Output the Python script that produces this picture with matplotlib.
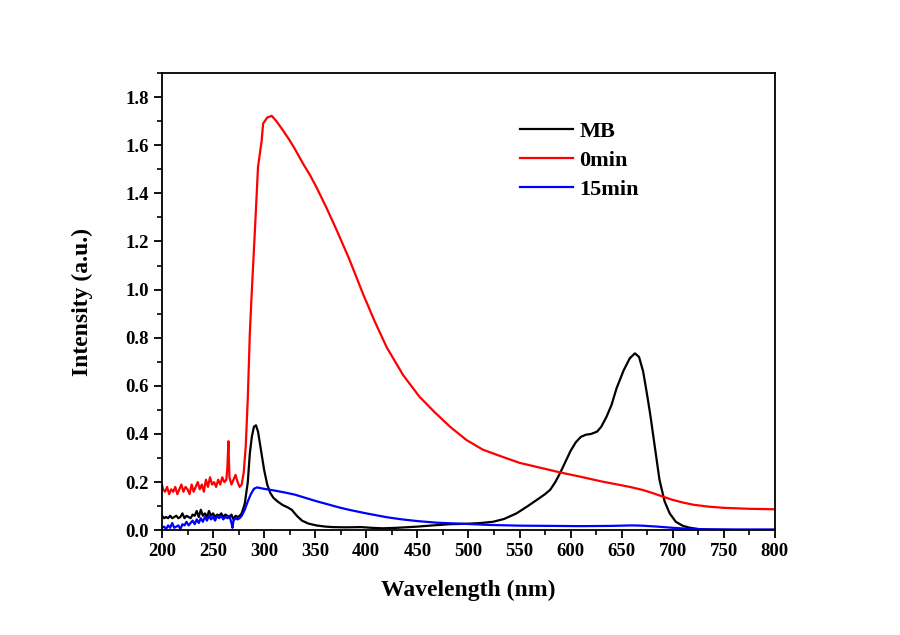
import matplotlib
matplotlib.use("Agg")
import matplotlib.pyplot as plt
from matplotlib.ticker import MultipleLocator, FormatStrFormatter

# ---- data ----
red_wl = [200, 201, 203, 205, 207, 209, 211, 213, 215, 217, 219, 221, 223, 225, 227, 229, 231, 233, 235, 237,
          239, 241, 243, 245, 247, 249, 251, 253, 255, 257, 259, 261, 263, 264, 265, 266, 268, 270, 272, 274,
          276, 278, 280, 282, 284, 286, 288, 291, 294, 297.6, 299, 303, 307.4, 312, 318.7, 325, 330, 338, 345, 351,
          361, 371, 383, 397, 408, 420, 436, 452, 467, 482, 498, 514, 530, 550, 570, 590, 610, 630, 658, 670,
          680, 690, 700, 710, 720, 735, 750, 775, 800]
red_val = [0.19, 0.17, 0.16, 0.18, 0.15, 0.17, 0.16, 0.18, 0.15, 0.17, 0.19, 0.16, 0.18, 0.17, 0.15, 0.19, 0.16, 0.18, 0.20, 0.17,
           0.19, 0.16, 0.21, 0.18, 0.22, 0.19, 0.20, 0.18, 0.21, 0.19, 0.22, 0.20, 0.21, 0.26, 0.37, 0.22, 0.19, 0.21, 0.23, 0.20,
           0.18, 0.19, 0.24, 0.35, 0.55, 0.82, 1.00, 1.25, 1.51, 1.62, 1.69, 1.715, 1.722, 1.70, 1.66, 1.62, 1.585, 1.524, 1.475, 1.427,
           1.34, 1.247, 1.13, 0.98, 0.87, 0.76, 0.645, 0.555, 0.49, 0.43, 0.375, 0.335, 0.31, 0.28, 0.26, 0.24, 0.222, 0.203, 0.18, 0.168,
           0.155, 0.14, 0.126, 0.115, 0.106, 0.098, 0.093, 0.089, 0.087]

mb_wl = [200, 202, 204, 206, 208, 210, 212, 214, 216, 218, 220, 222, 224, 226, 228, 230, 232, 234, 236, 238,
         240, 242, 244, 246, 248, 250, 252, 254, 256, 258, 260, 262, 264, 266, 268, 270, 272, 274, 276, 278,
         281, 284, 286, 288, 290, 292, 294, 297, 300, 303, 306, 309, 313, 318, 323, 327, 332, 337, 343, 351,
         360, 367, 380, 395, 405, 416, 430, 450, 465, 482, 500, 512, 524, 535, 547, 558, 570, 575, 580, 585,
         590, 595, 600, 605, 610, 615, 620, 626, 630, 635, 640, 645, 652, 658, 663, 667, 671, 675, 678, 683,
         687, 692, 697, 703, 710, 717, 725, 740, 760, 800]
mb_val = [0.06, 0.05, 0.055, 0.05, 0.06, 0.05, 0.055, 0.06, 0.05, 0.055, 0.07, 0.05, 0.06, 0.055, 0.05, 0.065, 0.06, 0.08, 0.055, 0.085,
          0.06, 0.07, 0.055, 0.08, 0.06, 0.07, 0.055, 0.065, 0.06, 0.07, 0.055, 0.065, 0.06, 0.05, 0.065, 0.045, 0.06, 0.055, 0.06, 0.07,
          0.11, 0.20, 0.32, 0.39, 0.43, 0.436, 0.41, 0.33, 0.25, 0.19, 0.155, 0.135, 0.12, 0.105, 0.095, 0.085, 0.06, 0.04, 0.028, 0.02,
          0.015, 0.013, 0.012, 0.013, 0.01, 0.008, 0.01, 0.015, 0.02, 0.025, 0.027, 0.03, 0.035, 0.047, 0.07, 0.10, 0.135, 0.15, 0.168, 0.2,
          0.24, 0.285, 0.33, 0.365, 0.388, 0.397, 0.40, 0.41, 0.43, 0.47, 0.52, 0.59, 0.665, 0.715, 0.735, 0.72, 0.66, 0.56, 0.48, 0.33,
          0.21, 0.12, 0.07, 0.035, 0.018, 0.01, 0.005, 0.002, 0.001, 0.001]

b15_wl = [200, 202, 204, 206, 208, 210, 212, 214, 216, 218, 220, 222, 224, 226, 228, 230, 232, 234, 236, 238,
          240, 242, 244, 246, 248, 250, 252, 254, 256, 258, 260, 262, 264, 266, 268, 269, 270, 272, 274, 276,
          278, 281, 284, 287, 290, 293, 300, 310, 320, 330, 340, 350, 362, 374, 384, 400, 420, 435, 450,
          470, 494, 520, 550, 580, 610, 640, 660, 670, 685, 700, 715, 730, 760, 800]
b15_val = [0.01, 0.015, 0.005, 0.02, 0.01, 0.03, 0.01, 0.015, 0.02, 0.005, 0.025, 0.02, 0.035, 0.02, 0.03, 0.04, 0.025, 0.045, 0.03, 0.05,
           0.035, 0.055, 0.04, 0.06, 0.045, 0.055, 0.04, 0.06, 0.05, 0.06, 0.045, 0.055, 0.05, 0.06, 0.03, 0.01, 0.04, 0.05, 0.045, 0.05,
           0.06, 0.085, 0.12, 0.15, 0.172, 0.178, 0.172, 0.165, 0.157, 0.148, 0.135, 0.122, 0.108, 0.094, 0.084, 0.07, 0.054, 0.045, 0.038,
           0.031, 0.027, 0.022, 0.019, 0.018, 0.017, 0.018, 0.02, 0.019, 0.015, 0.01, 0.006, 0.004, 0.003, 0.003]

labels = ["MB", "0min", "15min"]
colors = ["black", "#ff0000", "#0000ff"]

# ---- plot ----
plt.rcParams["font.family"] = ["Liberation Serif", "DejaVu Serif"]
plt.rcParams["font.weight"] = "bold"

fig = plt.figure(figsize=(9, 6.35), dpi=100)
ax = fig.add_axes([0.18, 0.165, 0.681, 0.72])

ax.plot(mb_wl, mb_val, color=colors[0], lw=1.6, label=labels[0])
ax.plot(red_wl, red_val, color=colors[1], lw=1.6, label=labels[1])
ax.plot(b15_wl, b15_val, color=colors[2], lw=1.6, label=labels[2])

ax.set_xlim(200, 800)
ax.set_ylim(0, 1.9)
ax.xaxis.set_major_locator(MultipleLocator(50))
ax.xaxis.set_minor_locator(MultipleLocator(25))
ax.yaxis.set_major_locator(MultipleLocator(0.2))
ax.yaxis.set_minor_locator(MultipleLocator(0.1))
ax.yaxis.set_major_formatter(FormatStrFormatter("%.1f"))
ax.tick_params(which="major", direction="out", length=6, width=1.3, labelsize=13.5)
ax.tick_params(which="minor", direction="out", length=3.5, width=1.2)
for lab in ax.get_xticklabels() + ax.get_yticklabels():
    lab.set_fontweight("bold")
for s in ax.spines.values():
    s.set_linewidth(1.3)

ax.set_xlabel("Wavelength (nm)", fontsize=17, fontweight="bold", labelpad=14)
ax.set_ylabel("Intensity (a.u.)", fontsize=17, fontweight="bold", labelpad=23)

ax.legend(loc="upper left", bbox_to_anchor=(0.552, 0.938), frameon=False,
          prop={"family": "Liberation Serif", "weight": "bold", "size": 16},
          handlelength=2.35, handletextpad=0.3, labelspacing=0.38)

fig.savefig("out.png", dpi=100)
